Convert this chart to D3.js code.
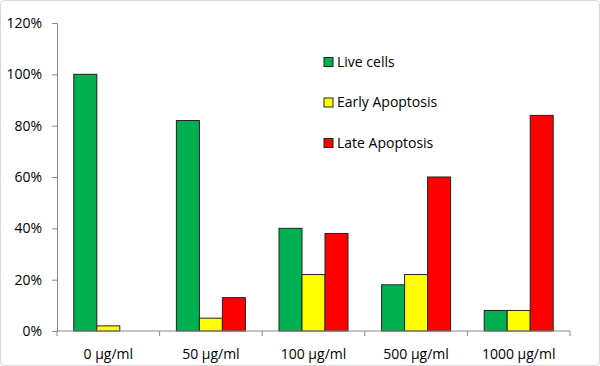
<!DOCTYPE html>
<html>
<head>
<meta charset="utf-8">
<script src="https://cdn.jsdelivr.net/npm/d3@7"></script>
<style>
  body { margin: 0; background: #fff; }
  text { font-family: "Open Sans", "Noto Sans", sans-serif; fill: #000; }
</style>
</head>
<body>
<svg></svg>
<script>
// chart data
const categories = ["0 µg/ml", "50 µg/ml", "100 µg/ml", "500 µg/ml", "1000 µg/ml"];
const seriesNames = ["Live cells", "Early Apoptosis", "Late Apoptosis"];
const liveCells = [100, 82, 40, 18, 8];
const earlyApoptosis = [2, 5, 22, 22, 8];
const lateApoptosis = [0, 13, 38, 60, 84];
const yTicks = [0, 20, 40, 60, 80, 100, 120];

const colors = ["#00b050", "#ffff00", "#ff0000"];
const seriesValues = [liveCells, earlyApoptosis, lateApoptosis];

const width = 600, height = 366;
const margin = {top: 23, right: 30, bottom: 35, left: 57};

const svg = d3.select("svg")
    .attr("width", width)
    .attr("height", height);

// outer border
svg.append("rect")
    .attr("x", 0.5).attr("y", 0.5)
    .attr("width", width - 1).attr("height", height - 1)
    .attr("rx", 4)
    .attr("fill", "#fff")
    .attr("stroke", "#d9d9d9");

let x = d3.scaleBand()
    .domain(categories)
    .range([margin.left, width - margin.right]);
let xInner = d3.scaleBand()
    .domain(seriesNames)
    .range([0, x.bandwidth()])
    .paddingOuter(0.73)
    .paddingInner(0);
let y = d3.scaleLinear()
    .domain([0, 120])
    .range([height - margin.bottom, margin.top]);

// bars
categories.forEach((c, i) => {
    const g = svg.append("g").attr("transform", "translate(" + x(c) + ",0)");
    seriesNames.forEach((s, j) => {
        const v = seriesValues[j][i];
        if (v <= 0) return;
        g.append("rect")
            .attr("x", xInner(s))
            .attr("y", y(v))
            .attr("width", xInner.bandwidth())
            .attr("height", y(0) - y(v))
            .attr("fill", colors[j])
            .attr("stroke", "#222")
            .attr("stroke-width", 1);
    });
});

// y axis
const yAxis = svg.append("g")
    .attr("transform", "translate(" + margin.left + ",0)")
    .call(d3.axisLeft(y).tickValues(yTicks).tickFormat(d => d + "%").tickSize(5).tickPadding(10));
yAxis.select(".domain").attr("stroke", "#888");
yAxis.selectAll(".tick line").attr("stroke", "#888");
yAxis.selectAll("text").attr("font-size", 14);

// x axis with ticks at category boundaries
const xAxis = svg.append("g")
    .attr("transform", "translate(0," + y(0) + ")");
xAxis.append("line")
    .attr("x1", margin.left).attr("x2", width - margin.right)
    .attr("stroke", "#888");
d3.range(categories.length + 1).forEach(i => {
    const bx = margin.left + i * x.step();
    xAxis.append("line")
        .attr("x1", bx).attr("x2", bx)
        .attr("y1", 0).attr("y2", 5)
        .attr("stroke", "#888");
});
categories.forEach(c => {
    xAxis.append("text")
        .attr("x", x(c) + x.bandwidth() / 2)
        .attr("y", 28)
        .attr("text-anchor", "middle")
        .attr("font-size", 14)
        .text(c);
});

// legend
const legend = svg.append("g").attr("transform", "translate(324,62)");
seriesNames.forEach((s, j) => {
    const row = legend.append("g").attr("transform", "translate(0," + j * 40.5 + ")");
    row.append("rect")
        .attr("x", 0).attr("y", -4.5)
        .attr("width", 9).attr("height", 9)
        .attr("fill", colors[j])
        .attr("stroke", "#222");
    row.append("text")
        .attr("x", 13)
        .attr("y", 0)
        .attr("dy", "0.35em")
        .attr("font-size", 14)
        .text(s);
});
</script>
</body>
</html>
